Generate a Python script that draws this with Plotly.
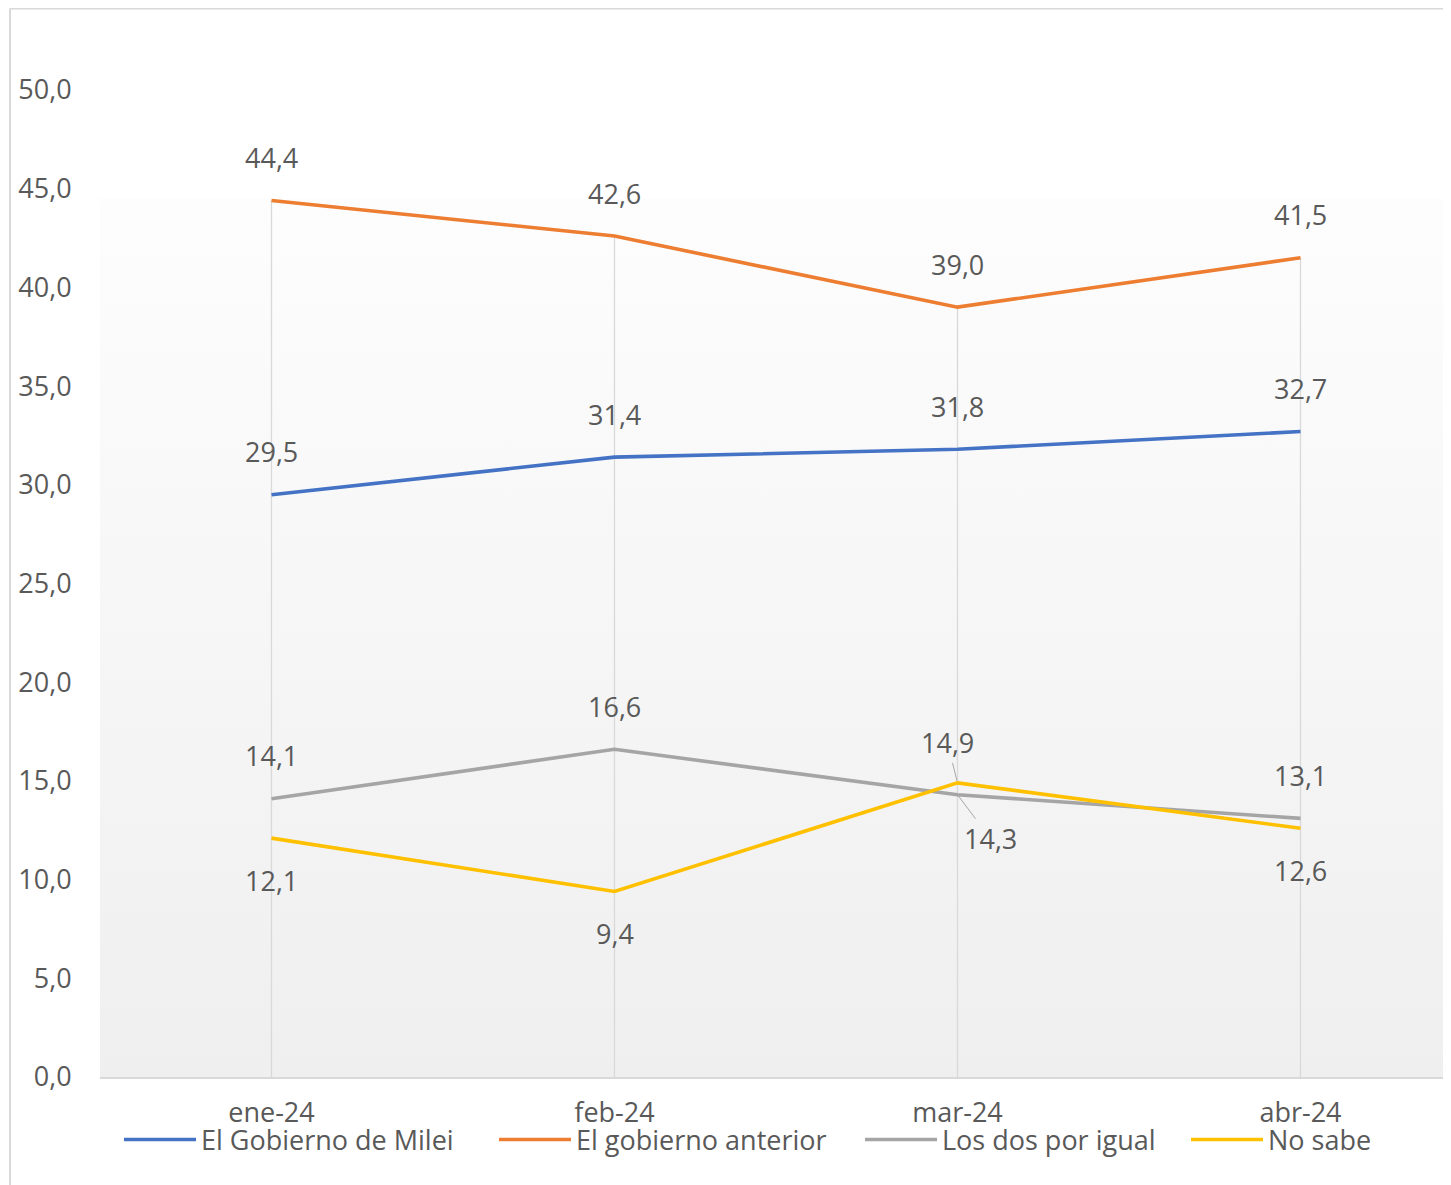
import plotly.graph_objects as go

# ---- data ----
categories = ["ene-24", "feb-24", "mar-24", "abr-24"]
milei = [29.5, 31.4, 31.8, 32.7]
anterior = [44.4, 42.6, 39.0, 41.5]
los_dos = [14.1, 16.6, 14.3, 13.1]
no_sabe = [12.1, 9.4, 14.9, 12.6]
y_ticks = [0, 5, 10, 15, 20, 25, 30, 35, 40, 45, 50]

series = [
    ("El Gobierno de Milei", milei, "#4472C4"),
    ("El gobierno anterior", anterior, "#ED7D31"),
    ("Los dos por igual", los_dos, "#A5A5A5"),
    ("No sabe", no_sabe, "#FFC000"),
]

FONT = "Open Sans"
TXT = "#595959"
FS = 27

OFF = 8  # page body margin
W, H = 1451 - OFF, 1185 - OFF
L, T = 100 - OFF, 90 - OFF
AXIS_Y = 1077 - OFF
B = H - AXIS_Y
plot_w = W - L
plot_h = AXIS_Y - T
px_per_cat = 343.0
x_lo = -0.5
x_hi = x_lo + plot_w / px_per_cat

xi = list(range(len(categories)))

fig = go.Figure()

# gradient plot-area background
fig.add_trace(go.Scatter(
    x=[x_lo, x_hi, x_hi, x_lo, x_lo], y=[0, 0, 44.5, 44.5, 0],
    mode="lines", line=dict(width=0), fill="toself",
    fillgradient=dict(type="vertical",
                      colorscale=[[0, "#efefef"], [1, "#fdfdfd"]]),
    hoverinfo="skip", showlegend=False,
))

# drop lines from highest value to axis
dx, dy = [], []
for i in xi:
    top = max(s[1][i] for s in series)
    dx += [i, i, None]
    dy += [0, top, None]
fig.add_trace(go.Scatter(x=dx, y=dy, mode="lines",
                         line=dict(color="#d9d9d9", width=1.3),
                         hoverinfo="skip", showlegend=False))

legend_names = ["legend", "legend2", "legend3", "legend4"]
legend_line_start = [125, 500, 866, 1192]  # page px

for k, (name, vals, col) in enumerate(series):
    fig.add_trace(go.Scatter(
        x=xi, y=vals, mode="lines", name=name,
        line=dict(color=col, width=3.6),
        hoverinfo="skip", legend=legend_names[k],
    ))

def fmt(v):
    return f"{v:.1f}".replace(".", ",")

above = 43
below = -42
placements = {
    "El Gobierno de Milei": [above] * 4,
    "El gobierno anterior": [above] * 4,
    "Los dos por igual": [above, above, "lead_below", above],
    "No sabe": [below, below, "lead_above", below],
}
for name, vals, col in series:
    for i, v in enumerate(vals):
        p = placements[name][i]
        if p == "lead_below":
            fig.add_annotation(x=i, y=v, text=fmt(v), showarrow=True,
                               ax=33, ay=44, arrowhead=0, arrowwidth=1,
                               arrowcolor="#a6a6a6", standoff=0,
                               font=dict(family=FONT, size=FS, color=TXT))
        elif p == "lead_above":
            fig.add_annotation(x=i, y=v, text=fmt(v), showarrow=True,
                               ax=-10, ay=-40, arrowhead=0, arrowwidth=1,
                               arrowcolor="#a6a6a6", standoff=2,
                               font=dict(family=FONT, size=FS, color=TXT))
        else:
            fig.add_annotation(x=i, y=v, text=fmt(v), showarrow=False,
                               yshift=p,
                               font=dict(family=FONT, size=FS, color=TXT))

# chart outer border (left and top)
bx = (10 - OFF - L) / plot_w
by_top = (AXIS_Y - 0.5) / plot_h
by_bot = (AXIS_Y - H) / plot_h
fig.add_shape(type="line", xref="paper", yref="paper",
              x0=bx, x1=bx, y0=by_bot, y1=by_top,
              line=dict(color="#d9d9d9", width=2))
fig.add_shape(type="line", xref="paper", yref="paper",
              x0=bx, x1=1.01, y0=by_top, y1=by_top,
              line=dict(color="#d9d9d9", width=2))

legend_y = (AXIS_Y - (1140 - OFF)) / plot_h
layout_legends = {}
for k, ln in enumerate(legend_names):
    layout_legends[ln] = dict(
        orientation="h",
        x=(legend_line_start[k] - OFF - L - 6) / plot_w, xanchor="left",
        y=legend_y, yanchor="middle",
        font=dict(family=FONT, size=FS, color=TXT),
        bgcolor="rgba(0,0,0,0)", itemwidth=72,
    )

fig.update_layout(
    width=W, height=H,
    margin=dict(l=L, r=0, t=T, b=B),
    paper_bgcolor="white", plot_bgcolor="white",
    separators=",.",
    font=dict(family=FONT, size=FS, color=TXT),
    hovermode=False,
    showlegend=True,
    xaxis=dict(range=[x_lo, x_hi], tickmode="array", tickvals=xi,
               ticktext=categories, showgrid=False, zeroline=False,
               showline=True, linecolor="#d9d9d9", linewidth=2,
               ticks="outside", ticklen=11, tickcolor="rgba(0,0,0,0)",
               tickfont=dict(family=FONT, size=FS, color=TXT)),
    yaxis=dict(range=[0, 50], tickmode="array", tickvals=y_ticks,
               tickformat=".1f", showgrid=False, zeroline=False,
               showline=False, ticks="outside", ticklen=22,
               tickcolor="rgba(0,0,0,0)",
               tickfont=dict(family=FONT, size=FS, color=TXT)),
    **layout_legends,
)

fig.write_html("out.html")
